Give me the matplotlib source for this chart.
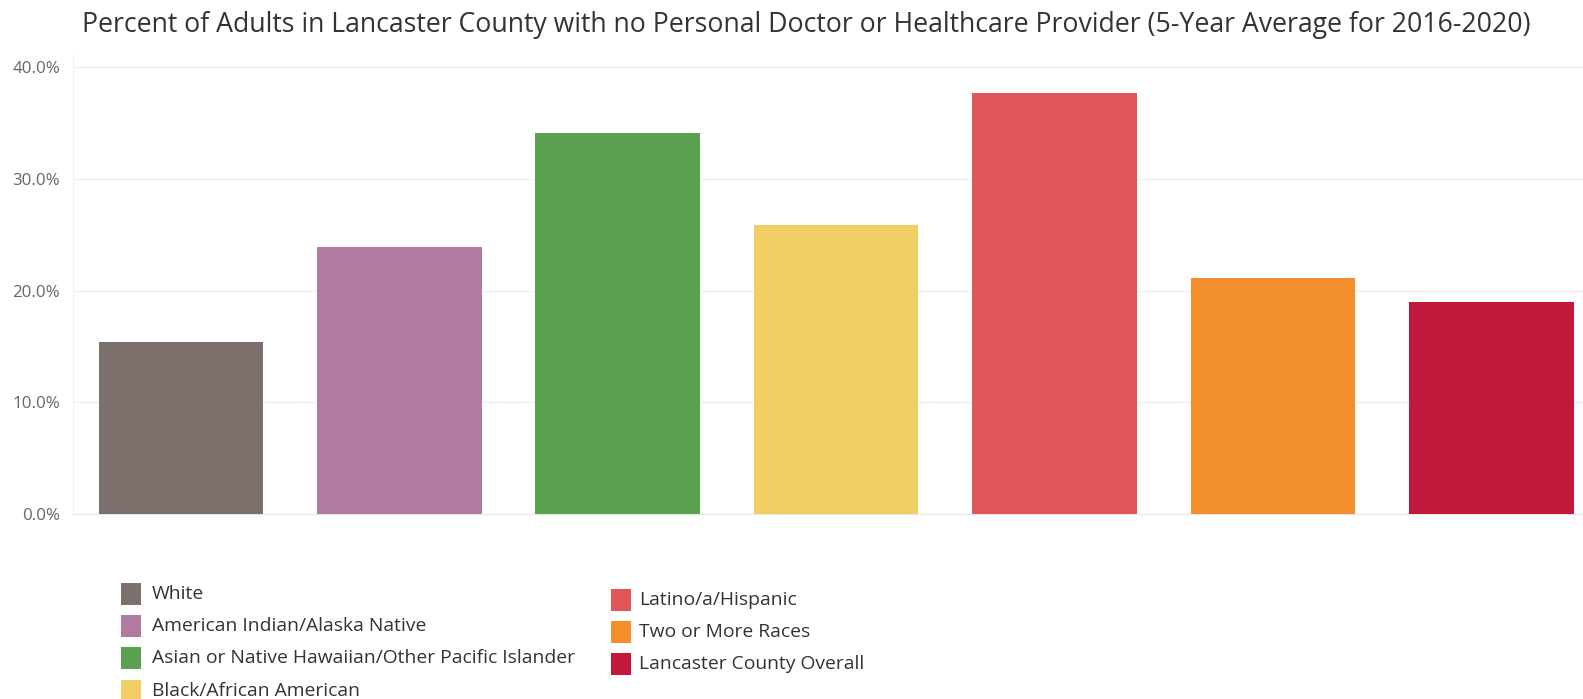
import matplotlib
matplotlib.use("Agg")
import matplotlib.pyplot as plt
from matplotlib.patches import Rectangle
from matplotlib.ticker import FuncFormatter

# Share of adults with no personal doctor or healthcare provider, by group (%)
categories = [
    "White",
    "American Indian/Alaska Native",
    "Asian or Native Hawaiian/Other Pacific Islander",
    "Black/African American",
    "Latino/a/Hispanic",
    "Two or More Races",
    "Lancaster County Overall",
]
values = [15.4, 23.9, 34.1, 25.9, 37.7, 21.1, 19.0]
colors = ["#7B706C", "#B07AA1", "#59A14F", "#F1CE63", "#E15759", "#F28E2B", "#C0193B"]
y_ticks = [0, 10, 20, 30, 40]

W, H = 1583, 699
fig = plt.figure(figsize=(W / 100, H / 100), dpi=100)
fig.patch.set_facecolor("white")

ax = fig.add_axes([72.7 / W, 1 - 514 / H, 1 - 72.7 / W, (514 - 55) / H])
x = list(range(len(categories)))
ax.bar(x, values, width=0.754, color=colors, zorder=3)

ax.set_xlim(-0.496, 6.42)
ax.set_ylim(0, 41.1)
ax.set_yticks(y_ticks)
ax.yaxis.set_major_formatter(FuncFormatter(lambda v, p: f"{v:.1f}%"))
ax.set_xticks([])
ax.grid(axis="y", color="#f0f0f0", linewidth=1, zorder=0)
for side in ["top", "right"]:
    ax.spines[side].set_visible(False)
ax.spines["left"].set_color("#f0f0f0")
ax.spines["bottom"].set_color("#e6e6e6")
ax.tick_params(axis="y", length=0, pad=9, labelsize=12.2, labelcolor="#666666")
for lbl in ax.get_yticklabels():
    lbl.set_fontfamily("Open Sans")

fig.text(806 / W, 1 - 25 / H,
         "Percent of Adults in Lancaster County with no Personal Doctor or Healthcare Provider (5-Year Average for 2016-2020)",
         ha="center", va="center", fontsize=19.2, color="#333333", family="Open Sans")

# Legend: two columns of swatches with labels
positions = [(121, 151.5, y) for y in (593.6, 626, 658, 690.6)] + \
            [(611, 639, y) for y in (599.7, 632, 664.3)]
sw, sh = 20, 22
for (sx, tx, cy), name, c in zip(positions, categories, colors):
    fig.patches.append(Rectangle((sx / W, 1 - (cy + sh / 2) / H), sw / W, sh / H,
                                 transform=fig.transFigure, facecolor=c,
                                 edgecolor="none", figure=fig))
    fig.text(tx / W, 1 - cy / H, name, ha="left", va="center",
             fontsize=13.9, color="#333333", family="Open Sans")

fig.savefig("out.png", dpi=100, facecolor="white")
